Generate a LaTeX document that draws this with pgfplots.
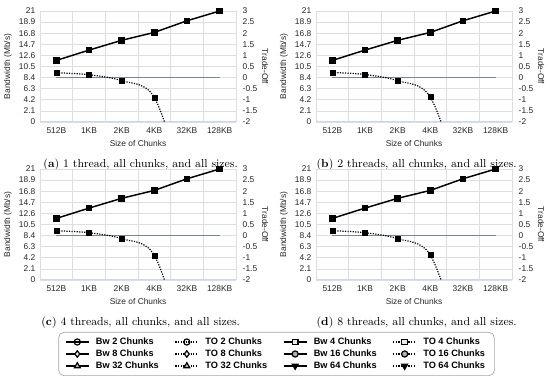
\documentclass[border=0pt]{standalone}
\usepackage{fontspec}
\setsansfont{Liberation Sans}
\usepackage{pgfplots}
\pgfplotsset{compat=1.18}
\usepackage{pgfplotstable}
\usetikzlibrary{calc}

\definecolor{gridc}{RGB}{222,222,222}
\definecolor{zeroc}{RGB}{118,134,146}
\definecolor{basec}{RGB}{205,215,235}

% x: category index; bw: bandwidth (Mb/s); to: trade-off; z: zero reference
\pgfplotstableread{
x bw to z
0 11.65 0.22 0
1 13.60 0.13 0
2 15.45 -0.14 0
3 16.95 -0.89 0
4 19.15 -5.2 0
5 21.00 -10 0
}\dataA
\pgfplotstableread{
x bw to z
0 11.65 0.23 0
1 13.60 0.14 0
2 15.45 -0.14 0
3 16.95 -0.88 0
4 19.15 -5.0 0
5 21.00 -10 0
}\dataB
\pgfplotstableread{
x bw to z
0 11.65 0.22 0
1 13.60 0.13 0
2 15.45 -0.14 0
3 16.95 -0.89 0
4 19.15 -5.2 0
5 21.00 -10 0
}\dataC
\pgfplotstableread{
x bw to z
0 11.65 0.22 0
1 13.60 0.13 0
2 15.45 -0.14 0
3 16.95 -0.88 0
4 19.15 -5.0 0
5 21.00 -10 0
}\dataD

\pgfplotsset{
  common/.style={
    scale only axis, width=147pt, height=83.25pt, anchor=south west,
    xmin=-0.5, xmax=5.5,
    /pgf/number format/assume math mode=true,
    tick label style={font=\sffamily\fontsize{6.3}{7}\selectfont, text=black!85},
    label style={font=\sffamily\fontsize{6.3}{7}\selectfont, text=black!85},
    major tick length=0pt, minor tick length=0pt,
  },
  bwaxis/.style={common,
    ymin=0, ymax=21,
    ytick={0,2.1,4.2,6.3,8.4,10.5,12.6,14.7,16.8,18.9,21},
    yticklabels={0,2.1,4.2,6.3,8.4,10.5,12.6,14.7,16.8,18.9,21},
    xtick={0,1,2,3,4,5},
    xticklabels={512B,1KB,2KB,4KB,32KB,128KB},
    minor xtick={-0.5,0.5,1.5,2.5,3.5,4.5,5.5},
    xminorgrids, ymajorgrids,
    major grid style={gridc, line width=0.5pt},
    minor grid style={gridc, line width=0.5pt},
    axis line style={draw=none},
    ylabel={Bandwidth (Mb/s)},
    xlabel={Size of Chunks},
    ylabel style={at={(axis description cs:-0.163,0.5)}, anchor=center},
    xlabel style={at={(axis description cs:0.5,-0.19)}, anchor=center},
    xticklabel style={yshift=-1pt},
  },
  toaxis/.style={common,
    ymin=-2, ymax=3,
    ytick={-2,-1.5,-1,-0.5,0,0.5,1,1.5,2,2.5,3},
    yticklabels={-2,-1.5,-1,-0.5,0,0.5,1,1.5,2,2.5,3},
    axis y line*=right, axis x line=none,
    y axis line style={draw=none},
    ylabel={Trade-Off},
    ylabel style={at={(axis description cs:1.148,0.5)}, anchor=center, rotate=180},
    yticklabel style={xshift=1.5pt},
  },
  bwline/.style={black, line width=1.1pt, mark=square*, mark size=1.9pt, mark options={solid}},
  toline/.style={black, line width=0.9pt, densely dotted, smooth, tension=0.5},
  tomark/.style={only marks, mark=square*, mark size=1.9pt, black},
  zeroline/.style={zeroc, line width=0.9pt},
}

\newcommand{\panel}[4]{%
  \begin{axis}[bwaxis, at={(#1,#2)}]
    \addplot[bwline] table[x=x,y=bw]{#3};
    \draw[basec, line width=0.8pt] (rel axis cs:0,0) -- (rel axis cs:1,0);
  \end{axis}
  \begin{axis}[toaxis, at={(#1,#2)}]
    \addplot[zeroline] table[x=x,y=z]{#3};
    \addplot[toline] table[x=x,y=to]{#3};
    \addplot[tomark, restrict y to domain=-2:3] table[x=x,y=to]{#3};
  \end{axis}
  \node[font=\rmfamily\fontsize{8.6}{10}\selectfont, anchor=center] at ($(#1,#2)+(75.5pt,-32pt)$) {#4};
}

\begin{document}
\begin{tikzpicture}
\useasboundingbox (0,0) rectangle (412.5pt,285.75pt);
\panel{30pt}{194.25pt}{\dataA}{(\textbf{a}) 1 thread, all chunks, and all sizes.}
\panel{237pt}{194.25pt}{\dataB}{(\textbf{b}) 2 threads, all chunks, and all sizes.}
\panel{30pt}{75.75pt}{\dataC}{(\textbf{c}) 4 threads, all chunks, and all sizes.}
\panel{237pt}{75.75pt}{\dataD}{(\textbf{d}) 8 threads, all chunks, and all sizes.}

\begin{axis}[
  at={(45pt,3.75pt)}, anchor=south west, scale only axis,
  width=324.75pt, height=33pt, hide axis,
  xmin=0, xmax=1, ymin=0, ymax=1,
  legend columns=4,
  legend cell align=left,
  legend style={at={(0.5,0.5)}, anchor=center,
    draw=gray!70, rounded corners=4pt, line width=0.5pt,
    font=\sffamily\bfseries\fontsize{6.9}{8}\selectfont,
    nodes={anchor=west},
    column sep=3pt, row sep=-1.5pt, inner xsep=5pt, inner ysep=2pt,
    /tikz/every even column/.append style={column sep=10pt}},
  legend image code/.code={%
    \draw[mark repeat=2,mark phase=2,#1]
      plot coordinates {(0cm,0cm) (0.3cm,0cm) (0.6cm,0cm)};},
  legend image post style={line width=0.9pt},
]
\addlegendimage{black, mark=o, mark options={solid, fill=white}, mark size=2.3pt}
\addlegendentry{Bw 2 Chunks}
\addlegendimage{black, densely dotted, mark=o, mark options={solid, fill=white}, mark size=2.3pt}
\addlegendentry{TO 2 Chunks}
\addlegendimage{black, mark=square*, mark options={solid, fill=gray!15}, mark size=2.1pt}
\addlegendentry{Bw 4 Chunks}
\addlegendimage{black, densely dotted, mark=square*, mark options={solid, fill=gray!15}, mark size=2.1pt}
\addlegendentry{TO 4 Chunks}
\addlegendimage{black, mark=diamond*, mark options={solid, fill=gray!10}, mark size=2.4pt}
\addlegendentry{Bw 8 Chunks}
\addlegendimage{black, densely dotted, mark=diamond*, mark options={solid, fill=gray!10}, mark size=2.4pt}
\addlegendentry{TO 8 Chunks}
\addlegendimage{black, mark=*, mark options={solid, fill=gray!60}, mark size=2.3pt}
\addlegendentry{Bw 16 Chunks}
\addlegendimage{black, densely dotted, mark=*, mark options={solid, fill=gray!60}, mark size=2.3pt}
\addlegendentry{TO 16 Chunks}
\addlegendimage{black, mark=triangle*, mark options={solid, fill=gray!50}, mark size=2.5pt}
\addlegendentry{Bw 32 Chunks}
\addlegendimage{black, densely dotted, mark=triangle*, mark options={solid, fill=gray!50}, mark size=2.5pt}
\addlegendentry{TO 32 Chunks}
\addlegendimage{black, mark=triangle*, mark options={solid, fill=black, rotate=180}, mark size=2.5pt}
\addlegendentry{Bw 64 Chunks}
\addlegendimage{black, densely dotted, mark=triangle*, mark options={solid, fill=black, rotate=180}, mark size=2.5pt}
\addlegendentry{TO 64 Chunks}
\end{axis}
\end{tikzpicture}
\end{document}
